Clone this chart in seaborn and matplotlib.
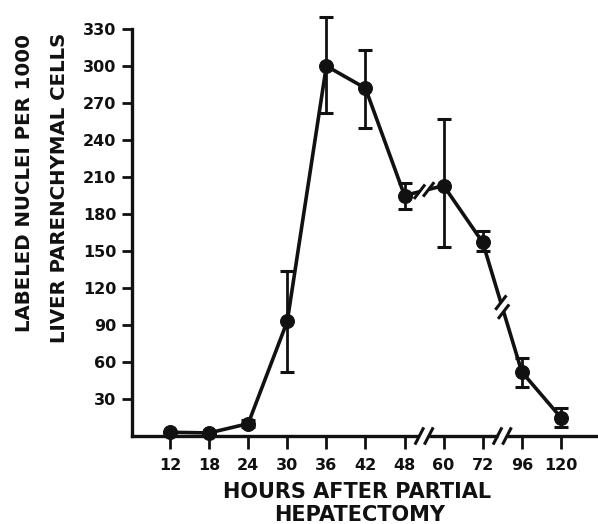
import numpy as np
import pandas as pd
import seaborn as sns
import matplotlib
matplotlib.use("Agg")
import matplotlib.pyplot as plt
from matplotlib.transforms import Affine2D, ScaledTranslation

# ---- data ----
hours = ["12", "18", "24", "30", "36", "42", "48", "60", "72", "96", "120"]
labeled = [3, 2.5, 10, 93, 300, 282, 195, 203, 157, 52, 15]
err_low = [3, 2.5, 7, 52, 262, 250, 184, 153, 150, 40, 7]
err_high = [3, 2.5, 13, 134, 340, 313, 205, 257, 166, 63, 23]
y_ticks = [30, 60, 90, 120, 150, 180, 210, 240, 270, 300, 330]
breaks_after = ["48", "72"]  # axis breaks follow these categories

sns.set_style("ticks")
plt.rcParams["font.family"] = ["DejaVu Sans"]

W, H = 598, 524
fig = plt.figure(figsize=(W / 100, H / 100), dpi=100)
ax = fig.add_axes([131.7 / W, 88 / H, (W - 131.7) / W, (436 - 29) / H])

pos = np.arange(len(hours))
df = pd.DataFrame({"pos": pos, "val": labeled})

ink = "#111111"
lw = 2.6

# error bars
lo = np.array(labeled) - np.array(err_low)
hi = np.array(err_high) - np.array(labeled)
ax.errorbar(pos, labeled, yerr=[lo, hi], fmt="none", ecolor=ink,
            elinewidth=2.0, capsize=5, capthick=2.2, clip_on=False, zorder=3)

sns.lineplot(data=df, x="pos", y="val", ax=ax, color=ink, linewidth=lw,
             marker="o", markersize=10, markeredgecolor=ink,
             markerfacecolor=ink, clip_on=False, zorder=4)

ax.set_xlim(-0.98, 10.95)
ax.set_ylim(0, 330)
ax.set_xticks(pos)
ax.set_xticklabels(hours)
ax.set_yticks(y_ticks)
ax.set_yticklabels([str(t) for t in y_ticks])
ax.set_xlabel("")
ax.set_ylabel("")

for s in ["top", "right"]:
    ax.spines[s].set_visible(False)
for s in ["left", "bottom"]:
    ax.spines[s].set_linewidth(2.4)
    ax.spines[s].set_color(ink)

ax.tick_params(axis="x", length=9.5, width=2.0, pad=6, labelsize=11.5,
               colors=ink)
ax.tick_params(axis="y", length=7, width=2.0, pad=4, labelsize=11.5,
               colors=ink)
for lab in ax.get_xticklabels() + ax.get_yticklabels():
    lab.set_fontweight("bold")


# ---- break marks "//" ----
pt = Affine2D().scale(1 / 72.0) + fig.dpi_scale_trans


def draw_break(xd, yd, d, gap=3.6, half=(3.2, 6.2)):
    tr = pt + ScaledTranslation(xd, yd, ax.transData)
    ux, uy = d
    ax.plot([-gap * ux, gap * ux], [-gap * uy, gap * uy], color="white",
            linewidth=5, transform=tr, clip_on=False, zorder=5,
            solid_capstyle="butt")
    hx, hy = half
    for s in (-1, 1):
        cx, cy = s * gap * ux, s * gap * uy
        ax.plot([cx - hx, cx + hx], [cy - hy, cy + hy], color=ink,
                linewidth=2.2, transform=tr, clip_on=False, zorder=6,
                solid_capstyle="butt")


fig.canvas.draw()
for b in breaks_after:
    i = hours.index(b)
    xm = i + 0.5
    draw_break(xm, 0, (1.0, 0.0), gap=3.4)
    ym = (labeled[i] + labeled[i + 1]) / 2
    p0 = ax.transData.transform((i, labeled[i]))
    p1 = ax.transData.transform((i + 1, labeled[i + 1]))
    d = p1 - p0
    d = d / np.hypot(*d)
    draw_break(xm, ym, (d[0], d[1]), gap=3.4, half=(4.0, 5.2))

# ---- axis titles ----
fig.text(25 / W, 1 - 183 / H, "LABELED NUCLEI PER 1000", rotation=90,
         ha="center", va="center", fontsize=14.2, fontweight="bold",
         color=ink)
fig.text(60 / W, 1 - 188 / H, "LIVER PARENCHYMAL CELLS", rotation=90,
         ha="center", va="center", fontsize=14.2, fontweight="bold",
         color=ink)
fig.text(357 / W, 1 - 492 / H, "HOURS AFTER PARTIAL", ha="center",
         va="center", fontsize=15, fontweight="bold", color=ink)
fig.text(360 / W, 1 - 515 / H, "HEPATECTOMY", ha="center",
         va="center", fontsize=15, fontweight="bold", color=ink)

fig.savefig("out.png", dpi=100)
